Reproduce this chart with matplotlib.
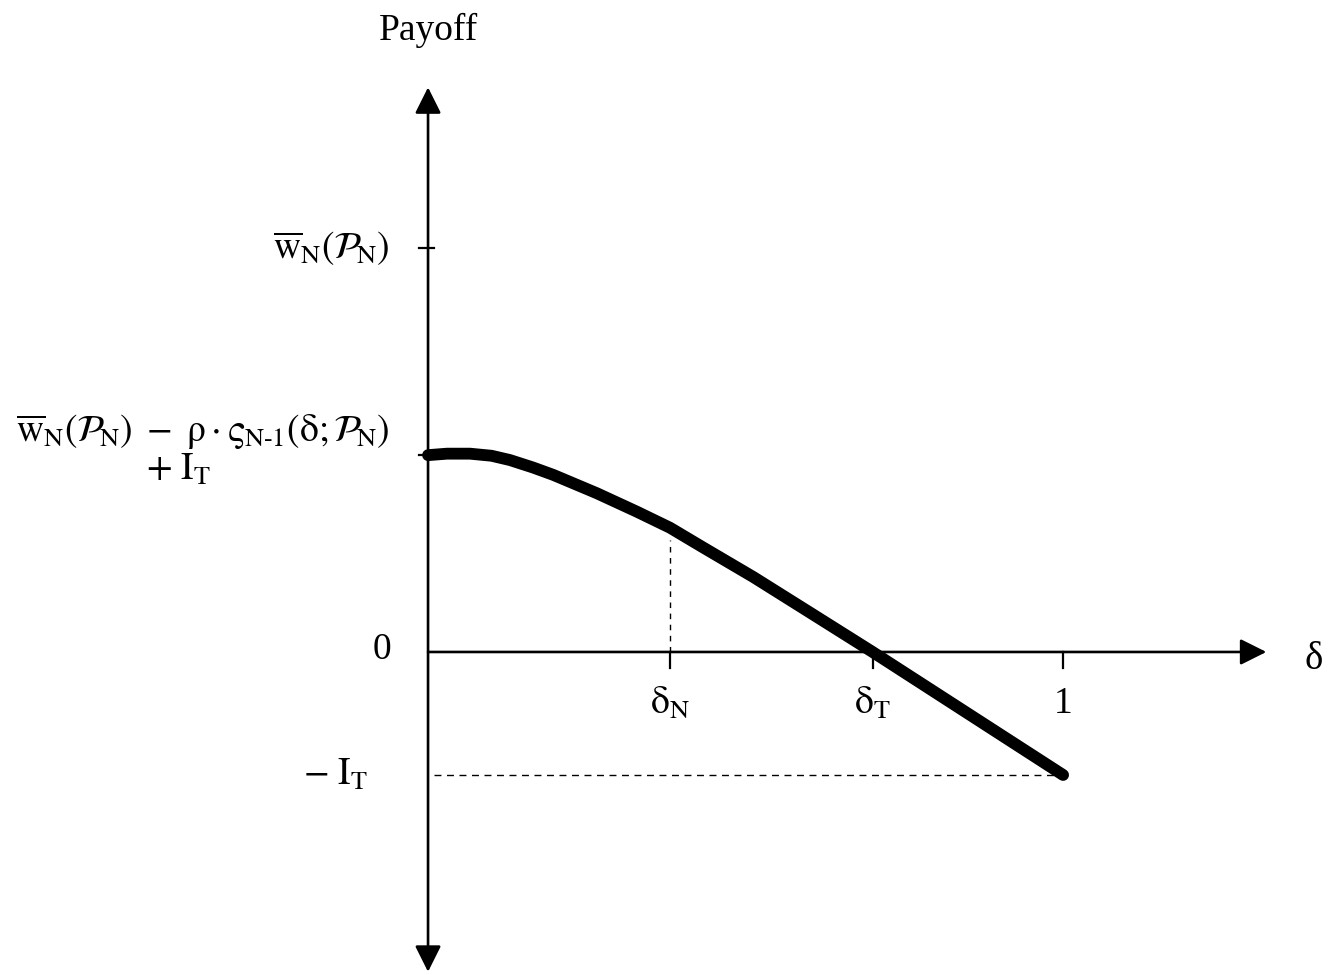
import matplotlib
matplotlib.use("Agg")
import matplotlib.pyplot as plt

plt.rcParams['font.family'] = ['Liberation Serif', 'DejaVu Serif']
plt.rcParams['mathtext.fontset'] = 'stix'

# payoff curve (delta, payoff), -I_T scaled to -1
delta = [0.0, 0.03, 0.066, 0.10, 0.129, 0.165, 0.197, 0.266, 0.329, 0.381,
         0.433, 0.512, 0.60, 0.70, 0.85, 1.0]
payoff = [1.60, 1.612, 1.612, 1.595, 1.56, 1.50, 1.44, 1.29, 1.14, 1.01,
          0.85, 0.61, 0.325, 0.0, -0.50, -1.0]

delta_N = 0.381
delta_T = 0.70
x_ticks = [delta_N, delta_T, 1.0]
x_labels = [r'$\mathrm{δ_N}$', r'$\mathrm{δ_T}$', '1']

w_bar = 3.28
upper = 1.60
minus_I = -1.0

fig = plt.figure(figsize=(13.4, 9.75), dpi=100)
ax = fig.add_axes([0, 0, 1, 1])
ax.set_xlim(-0.674, 1.436)
ax.set_ylim(-2.626, 5.30)
ax.axis('off')

# axes with arrows
ax.annotate('', xy=(0, 4.59), xytext=(0, -2.60),
            arrowprops=dict(arrowstyle='<|-|>', mutation_scale=40, lw=1.9,
                            color='black', shrinkA=0, shrinkB=0))
ax.annotate('', xy=(1.32, 0), xytext=(0, 0),
            arrowprops=dict(arrowstyle='-|>', mutation_scale=40, lw=1.9,
                            color='black', shrinkA=0, shrinkB=0))

# tick marks
for yv in [w_bar, upper]:
    ax.plot([-0.014, 0.01], [yv, yv], color='black', lw=1.6)
for xv in x_ticks:
    ax.plot([xv, xv], [0, -0.13], color='black', lw=1.6)

# dashed guides
ax.plot([delta_N, delta_N], [0, 0.91], color='black', lw=1, ls=(0, (4, 4)))
ax.plot([0.01, 1.0], [minus_I, minus_I], color='black', lw=1, ls=(0, (5, 4)))

# payoff curve
ax.plot(delta, payoff, color='black', lw=8.5, solid_capstyle='round',
        solid_joinstyle='round')

fs = 27
for xv, lab in zip(x_ticks, x_labels):
    ax.text(xv, -0.42, lab, ha='center', va='center', fontsize=fs)

ax.text(0, 5.05, 'Payoff', ha='center', va='center', fontsize=fs)
ax.text(1.395, -0.06, 'δ', ha='center', va='center', fontsize=fs + 1)
ax.text(-0.072, 0.02, '0', ha='center', va='center', fontsize=fs)
ax.text(-0.145, minus_I, r'$\mathrm{-\ I_T}$', ha='center', va='center', fontsize=fs)
ax.text(-0.06, w_bar, r'$\overline{\mathrm{w}}_{\mathrm{N}}(\mathcal{P}_{\!\mathrm{N}})$',
        ha='right', va='center', fontsize=fs)
ax.text(-0.06, 1.64,
        r'$\overline{\mathrm{w}}_{\mathrm{N}}(\mathcal{P}_{\!\mathrm{N}})\ -\ \mathrm{ρ}\cdot\mathrm{ς}_{\mathrm{N\text{-}1}}(\mathrm{δ};\mathcal{P}_{\!\mathrm{N}})$'
        + '\n' + r'$+\ \mathrm{I_T}$' + '      ',
        ha='right', va='center', multialignment='center', linespacing=1.02,
        fontsize=fs)

fig.savefig('out.png', dpi=100, facecolor='white')
